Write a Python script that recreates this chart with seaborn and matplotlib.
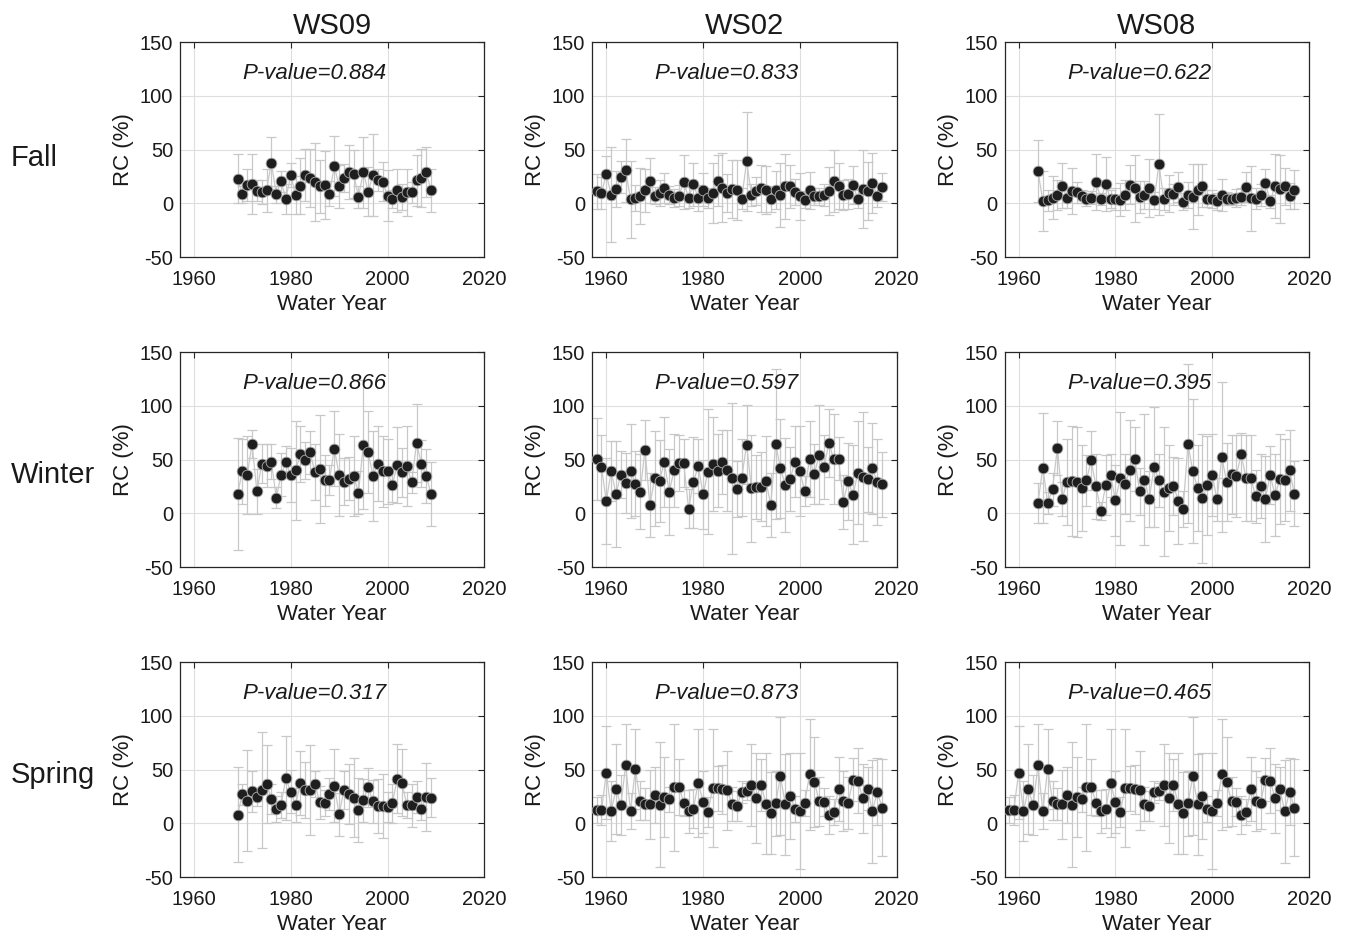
import pandas as pd
import seaborn as sns
import matplotlib.pyplot as plt

# water years per watershed
years_ws09 = list(range(1969, 2010))
years_ws02 = list(range(1958, 2018))
years_ws08 = list(range(1964, 2018))
years_ws08_spring = list(range(1958, 2018))

# Fall
fall_ws09 = [22.8, 8.3, 16.7, 17.9, 11.7, 10.5, 12.3, 37.7, 8.3, 20.4,
             4.0, 26.5, 7.7, 15.7, 26.2, 23.8, 19.8, 15.7, 17.0, 9.0,
             34.3, 16.0, 23.5, 29.3, 27.2, 5.9, 29.0, 10.8, 26.2, 21.6,
             20.0, 7.1, 4.0, 12.0, 5.9, 10.2, 10.2, 21.3, 23.1, 29.0, 12.0]
fall_ws09_err = [23, 8, 15, 28, 10, 11, 20, 24, 8, 10,
                 14, 11, 18, 26, 24, 27, 36, 25, 32, 12,
                 28, 20, 13, 25, 22, 10, 33, 23, 38, 10,
                 18, 24, 8, 20, 12, 22, 10, 24, 27, 23, 20]
fall_ws02 = [11.1, 9.6, 26.9, 8.0, 13.3, 24.4, 30.6, 3.7, 4.9, 7.1,
             12.0, 21.0, 7.1, 9.3, 13.9, 7.7, 4.9, 7.1, 19.8, 5.2,
             17.9, 4.9, 12.7, 4.9, 9.9, 21.0, 14.5, 9.6, 13.3, 12.3,
             4.3, 38.9, 7.7, 11.7, 13.9, 12.3, 4.0, 12.3, 7.7, 15.7,
             15.7, 10.5, 6.5, 3.4, 12.0, 6.5, 6.5, 7.7, 11.4, 21.0,
             16.0, 8.0, 8.3, 17.0, 4.0, 13.3, 11.4, 18.8, 7.1, 15.4]
fall_ws02_err = [16, 15, 17, 44, 17, 15, 29, 36, 12, 26,
                 20, 21, 8, 12, 14, 8, 8, 10, 25, 10,
                 20, 12, 15, 9, 28, 24, 32, 18, 27, 28,
                 10, 46, 10, 13, 22, 22, 12, 18, 30, 30,
                 20, 12, 22, 8, 17, 8, 8, 10, 22, 29,
                 21, 14, 14, 18, 8, 36, 27, 28, 11, 13]
fall_ws08 = [30.2, 1.9, 2.8, 4.9, 8.0, 16.4, 5.2, 11.4, 10.2, 6.5,
             3.7, 5.2, 20.0, 4.0, 17.9, 4.0, 4.0, 3.4, 8.0, 17.3,
             13.9, 5.9, 7.4, 14.5, 2.8, 36.4, 4.0, 9.3, 8.3, 15.4,
             1.5, 7.4, 6.2, 12.7, 16.4, 4.3, 4.0, 1.9, 7.7, 4.3,
             4.0, 4.9, 6.2, 14.8, 4.6, 4.3, 7.7, 18.8, 1.9, 16.0,
             13.3, 15.7, 6.5, 12.7]
fall_ws08_err = [29, 28, 10, 20, 14, 21, 10, 21, 10, 6,
                 6, 6, 26, 6, 25, 8, 10, 15, 14, 18,
                 31, 15, 13, 27, 8, 47, 10, 17, 10, 14,
                 8, 12, 30, 24, 20, 8, 8, 8, 15, 6,
                 6, 8, 8, 14, 30, 10, 10, 13, 6, 30,
                 32, 17, 12, 18]

# Winter
winter_ws09 = [17.9, 38.9, 35.5, 64.5, 20.4, 46.0, 44.1, 48.1, 14.5, 35.8,
               47.5, 35.8, 39.8, 54.9, 49.1, 56.8, 38.3, 41.4, 30.6, 30.6,
               60.2, 35.5, 29.3, 32.1, 34.9, 19.1, 63.6, 56.8, 34.9, 46.3,
               38.9, 38.9, 26.5, 44.8, 38.0, 43.8, 28.7, 65.4, 46.3, 34.9, 17.9]
winter_ws09_err = [52, 30, 36, 13, 21, 18, 20, 16, 10, 20,
                   15, 25, 46, 26, 17, 20, 26, 50, 24, 14,
                   35, 38, 22, 20, 37, 20, 60, 38, 42, 35,
                   33, 30, 16, 35, 23, 37, 10, 36, 22, 25, 30]
winter_ws02 = [50.3, 42.6, 11.4, 39.2, 17.9, 35.8, 28.1, 39.2, 27.5, 20.1,
               59.0, 7.7, 32.4, 30.2, 47.5, 19.8, 39.8, 46.9, 46.9, 4.3,
               28.7, 44.1, 17.6, 38.6, 45.7, 39.5, 47.5, 39.8, 32.4, 22.5,
               33.0, 63.9, 23.1, 24.4, 24.7, 29.9, 7.7, 64.5, 41.7, 26.2,
               32.1, 47.8, 39.2, 20.7, 50.6, 36.4, 54.6, 42.9, 65.4, 50.3,
               50.6, 10.8, 29.6, 17.3, 37.7, 34.0, 31.5, 41.7, 29.3, 26.9]
winter_ws02_err = [38, 30, 40, 28, 49, 22, 28, 44, 30, 35,
                   28, 30, 44, 38, 42, 40, 34, 26, 22, 18,
                   42, 25, 32, 58, 44, 34, 30, 38, 70, 26,
                   36, 37, 50, 30, 32, 42, 30, 70, 46, 44,
                   30, 33, 42, 14, 35, 28, 46, 30, 32, 42,
                   20, 25, 36, 46, 48, 60, 30, 42, 40, 30]
winter_ws08 = [9.6, 42.3, 9.6, 22.2, 60.8, 13.3, 29.3, 29.9, 29.3, 23.1,
               30.6, 49.1, 25.0, 2.2, 26.2, 35.5, 12.3, 32.4, 27.5, 39.8,
               50.6, 20.4, 31.2, 13.6, 43.2, 30.6, 19.8, 23.1, 25.6, 11.7,
               4.0, 64.5, 38.9, 23.8, 13.9, 26.2, 35.8, 13.0, 52.2, 29.0,
               36.1, 34.9, 54.9, 32.4, 32.4, 15.7, 25.6, 13.6, 35.8, 16.7,
               31.8, 31.2, 39.8, 18.2]
winter_ws08_err = [19, 51, 10, 15, 25, 16, 40, 51, 51, 40,
                   24, 27, 30, 8, 28, 20, 33, 62, 28, 47,
                   30, 22, 61, 26, 56, 25, 60, 40, 27, 40,
                   17, 74, 67, 40, 60, 46, 38, 20, 70, 36,
                   37, 38, 20, 40, 40, 25, 30, 40, 27, 38,
                   42, 38, 38, 30]

# Spring
spring_ws09 = [8.0, 26.9, 21.0, 29.9, 24.1, 30.6, 36.4, 22.8, 13.6, 17.3,
               42.0, 29.3, 17.0, 37.7, 30.9, 31.2, 36.4, 19.4, 18.8, 27.5,
               34.9, 8.6, 30.9, 26.9, 23.8, 12.3, 21.3, 33.6, 20.4, 16.0,
               16.0, 15.1, 18.5, 41.4, 37.7, 16.7, 16.7, 24.4, 13.0, 24.4, 23.8]
spring_ws09_err = [44, 10, 47, 19, 8, 54, 36, 14, 12, 12,
                   39, 20, 16, 30, 26, 42, 12, 15, 12, 15,
                   34, 20, 18, 28, 37, 30, 20, 18, 20, 25,
                   30, 14, 18, 32, 31, 12, 20, 15, 10, 32, 18]
spring_ws02 = [12.3, 12.3, 47.2, 11.4, 31.8, 16.7, 54.0, 11.4, 50.3, 21.0,
               18.2, 17.6, 26.5, 17.3, 24.4, 22.2, 33.6, 34.0, 19.1, 11.1,
               13.6, 37.7, 20.1, 10.5, 33.0, 32.7, 31.5, 30.6, 17.9, 16.0,
               29.3, 29.9, 35.5, 23.8, 35.5, 18.2, 9.6, 18.5, 43.8, 17.6,
               25.3, 13.6, 11.4, 18.5, 45.4, 38.6, 20.4, 19.4, 7.7, 10.5,
               32.1, 20.7, 18.8, 40.7, 39.8, 23.1, 32.1, 11.1, 29.3, 14.5]
spring_ws02_err = [12, 14, 43, 28, 42, 28, 38, 17, 37, 18,
                   15, 32, 26, 58, 37, 12, 59, 26, 12, 20,
                   18, 50, 29, 14, 55, 21, 23, 37, 16, 14,
                   10, 8, 38, 42, 24, 47, 38, 30, 55, 47,
                   40, 12, 54, 12, 52, 42, 23, 13, 18, 12,
                   30, 28, 24, 20, 30, 32, 20, 48, 31, 45]
# the WS08 spring panel shows the same series as WS02
spring_ws08 = list(spring_ws02)
spring_ws08_err = list(spring_ws02_err)

p_fall = [0.884, 0.833, 0.622]
p_winter = [0.866, 0.597, 0.395]
p_spring = [0.317, 0.873, 0.465]

sites = ['WS09', 'WS02', 'WS08']
seasons = ['Fall', 'Winter', 'Spring']

panels = [
    [(years_ws09, fall_ws09, fall_ws09_err, p_fall[0]),
     (years_ws02, fall_ws02, fall_ws02_err, p_fall[1]),
     (years_ws08, fall_ws08, fall_ws08_err, p_fall[2])],
    [(years_ws09, winter_ws09, winter_ws09_err, p_winter[0]),
     (years_ws02, winter_ws02, winter_ws02_err, p_winter[1]),
     (years_ws08, winter_ws08, winter_ws08_err, p_winter[2])],
    [(years_ws09, spring_ws09, spring_ws09_err, p_spring[0]),
     (years_ws02, spring_ws02, spring_ws02_err, p_spring[1]),
     (years_ws08_spring, spring_ws08, spring_ws08_err, p_spring[2])],
]

sns.set_style("white")
plt.rcParams['font.family'] = ['Liberation Sans', 'DejaVu Sans']
plt.rcParams['axes.unicode_minus'] = False

fig, axes = plt.subplots(3, 3, figsize=(13.48, 9.38), dpi=100)
fig.subplots_adjust(left=0.1335, right=0.971, top=0.9552, bottom=0.065,
                    wspace=0.355, hspace=0.442)

for i, row in enumerate(panels):
    for j, (years, rc, err, p) in enumerate(row):
        ax = axes[i, j]
        df = pd.DataFrame({'year': years, 'rc': rc, 'err': err})

        ax.errorbar(df['year'], df['rc'], yerr=df['err'], fmt='none',
                    ecolor='#c8c8c8', elinewidth=0.9, capsize=3.6,
                    capthick=0.9, zorder=1)
        sns.lineplot(data=df, x='year', y='rc', ax=ax, color='#c8c8c8',
                     lw=0.9, zorder=2)
        sns.scatterplot(data=df, x='year', y='rc', ax=ax, color='#1e1e1e',
                        s=60, edgecolor='#b0b0b0', linewidth=0.6, zorder=3)

        ax.set_xlim(1957.1, 2020)
        ax.set_ylim(-50, 150)
        ax.set_xticks([1960, 1980, 2000, 2020])
        ax.set_yticks([-50, 0, 50, 100, 150])
        ax.grid(True, color='#dedede', lw=0.8)
        ax.set_axisbelow(True)
        ax.tick_params(direction='in', top=True, right=True, length=4,
                       width=0.8, color='#262626', labelsize=14.5,
                       labelcolor='#1a1a1a', pad=5)
        ax.tick_params(axis='x', pad=9)
        for sp in ax.spines.values():
            sp.set_color('#262626')
            sp.set_linewidth(0.9)

        ax.set_xlabel('Water Year', fontsize=16, color='#1a1a1a', labelpad=4)
        ax.set_ylabel('RC (%)', fontsize=16, color='#1a1a1a', labelpad=4)
        ax.text(1970, 121, f'P-value={p:.3f}', fontstyle='italic',
                fontsize=16, va='center', ha='left', color='#1a1a1a')

        if i == 0:
            ax.set_title(sites[j], fontsize=21, pad=6, color='#1a1a1a')

for i, season in enumerate(seasons):
    yc = [0.8316, 0.4936, 0.1738][i]
    fig.text(0.008, yc, season, fontsize=21, va='center', ha='left',
             color='#1a1a1a')

plt.savefig('out.png', dpi=100)
plt.close()
